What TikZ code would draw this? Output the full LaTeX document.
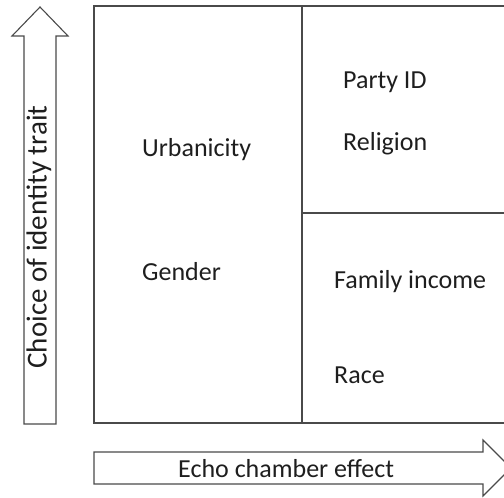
\documentclass[tikz,border=0pt]{standalone}
\usepackage{fontspec}
\setmainfont{Carlito}
\definecolor{linegray}{HTML}{4A4A4A}
\definecolor{textgray}{HTML}{1E1E1E}
\begin{document}
\begin{tikzpicture}[x=1pt,y=-1pt,
  frame/.style={draw=linegray, line width=1.2pt},
  arrowshape/.style={draw=linegray, line width=1.1pt, line join=miter},
  lbl/.style={anchor=base west, inner sep=0pt, text=textgray, font=\fontsize{26}{30}\selectfont}]
\useasboundingbox (0,0) rectangle (504,498);
\clip (0,0) rectangle (504,498);
% main grid
\draw[frame] (94,6) rectangle (508,423);
\draw[frame] (302,6) -- (302,423);
\draw[frame] (302,213) -- (508,213);
% vertical arrow
\draw[arrowshape] (24,424) -- (24,36) -- (12,36) -- (40,7) -- (68,36) -- (56,36) -- (56,424) -- cycle;
% horizontal arrow
\draw[arrowshape] (94,452) -- (483,452) -- (483,440) -- (511,468) -- (483,496) -- (483,484) -- (94,484) -- cycle;
% labels
\node[lbl] (urb) at (142,156) {Urbanicity};
\node[lbl] (gen) at (142,280) {Gender};
\node[lbl] (pid) at (343,88) {Party ID};
\node[lbl] (rel) at (343,150) {Religion};
\node[lbl] (fam) at (334,288) {Family income};
\node[lbl] (race) at (334,383) {Race};
\node[lbl, anchor=base, rotate=90, font=\fontsize{29}{33}\selectfont] (vy) at (46.5,237) {Choice of identity trait};
\node[lbl] (hx) at (178,477) {Echo chamber effect};
\end{tikzpicture}
\end{document}
